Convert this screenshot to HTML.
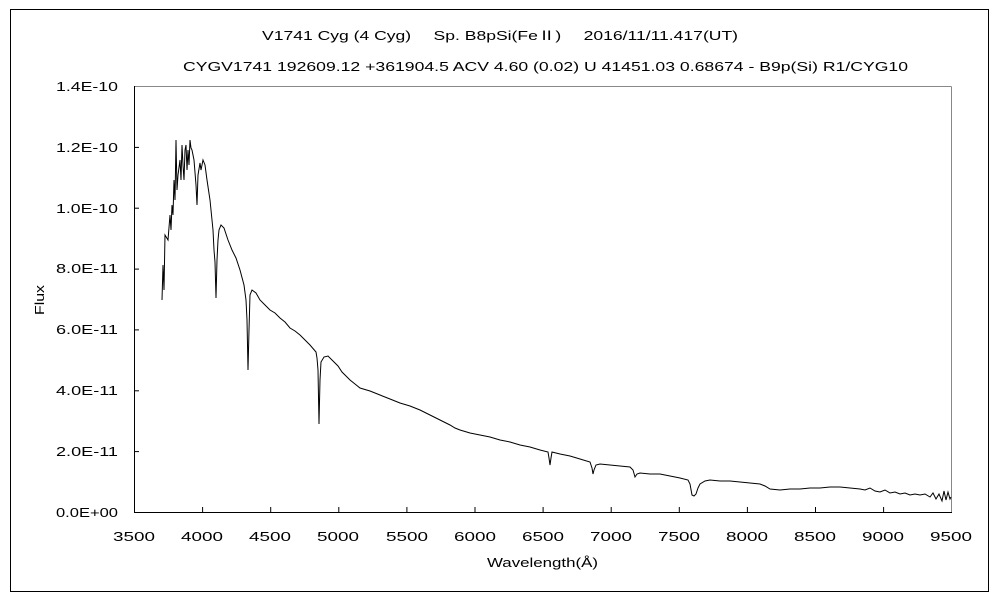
<!DOCTYPE html>
<html><head><meta charset="utf-8"><style>
html,body{margin:0;padding:0;background:#fff;width:1000px;height:600px;overflow:hidden}
text{font-family:"Liberation Sans","Noto Sans CJK JP",sans-serif;font-size:13px;fill:#000}
</style></head><body>
<svg width="1000" height="600" xmlns="http://www.w3.org/2000/svg">
<rect x="10.5" y="9.5" width="978" height="582" fill="none" stroke="#000"/>
<text x="262" y="40" textLength="476" lengthAdjust="spacingAndGlyphs">V1741 Cyg (4 Cyg)　 Sp. B8pSi(FeⅡ)　 2016/11/11.417(UT)</text>
<text x="183" y="71" textLength="725" lengthAdjust="spacingAndGlyphs">CYGV1741 192609.12 +361904.5 ACV 4.60 (0.02) U 41451.03 0.68674 - B9p(Si) R1/CYG10</text>
<line x1="134.5" y1="86.5" x2="951.5" y2="86.5" stroke="#888"/>
<line x1="951.5" y1="86.5" x2="951.5" y2="512.5" stroke="#888"/>
<line x1="134.5" y1="86" x2="134.5" y2="513" stroke="#000"/>
<line x1="134" y1="512.5" x2="952" y2="512.5" stroke="#000"/>
<g stroke="#000">
<line x1="134" y1="451.6" x2="139" y2="451.6"/><line x1="134" y1="390.8" x2="139" y2="390.8"/>
<line x1="134" y1="329.9" x2="139" y2="329.9"/><line x1="134" y1="269.1" x2="139" y2="269.1"/>
<line x1="134" y1="208.2" x2="139" y2="208.2"/><line x1="134" y1="147.4" x2="139" y2="147.4"/>
<line x1="202.6" y1="507" x2="202.6" y2="512"/><line x1="270.7" y1="507" x2="270.7" y2="512"/>
<line x1="338.8" y1="507" x2="338.8" y2="512"/><line x1="406.9" y1="507" x2="406.9" y2="512"/>
<line x1="475" y1="507" x2="475" y2="512"/><line x1="543.1" y1="507" x2="543.1" y2="512"/>
<line x1="611.2" y1="507" x2="611.2" y2="512"/><line x1="679.3" y1="507" x2="679.3" y2="512"/>
<line x1="747.4" y1="507" x2="747.4" y2="512"/><line x1="815.5" y1="507" x2="815.5" y2="512"/>
<line x1="883.6" y1="507" x2="883.6" y2="512"/>
</g>
<g>
<text x="56" y="517" textLength="62" lengthAdjust="spacingAndGlyphs">0.0E+00</text><text x="56" y="456" textLength="62" lengthAdjust="spacingAndGlyphs">2.0E-11</text>
<text x="56" y="395" textLength="62" lengthAdjust="spacingAndGlyphs">4.0E-11</text><text x="56" y="334" textLength="62" lengthAdjust="spacingAndGlyphs">6.0E-11</text>
<text x="56" y="273" textLength="62" lengthAdjust="spacingAndGlyphs">8.0E-11</text><text x="56" y="213" textLength="62" lengthAdjust="spacingAndGlyphs">1.0E-10</text>
<text x="56" y="152" textLength="62" lengthAdjust="spacingAndGlyphs">1.2E-10</text><text x="56" y="91" textLength="62" lengthAdjust="spacingAndGlyphs">1.4E-10</text>
</g>
<g>
<text x="113" y="541" textLength="42" lengthAdjust="spacingAndGlyphs">3500</text><text x="181" y="541" textLength="42" lengthAdjust="spacingAndGlyphs">4000</text><text x="249" y="541" textLength="42" lengthAdjust="spacingAndGlyphs">4500</text>
<text x="317" y="541" textLength="42" lengthAdjust="spacingAndGlyphs">5000</text><text x="386" y="541" textLength="42" lengthAdjust="spacingAndGlyphs">5500</text><text x="454" y="541" textLength="42" lengthAdjust="spacingAndGlyphs">6000</text>
<text x="522" y="541" textLength="42" lengthAdjust="spacingAndGlyphs">6500</text><text x="590" y="541" textLength="42" lengthAdjust="spacingAndGlyphs">7000</text><text x="658" y="541" textLength="42" lengthAdjust="spacingAndGlyphs">7500</text>
<text x="726" y="541" textLength="42" lengthAdjust="spacingAndGlyphs">8000</text><text x="794" y="541" textLength="42" lengthAdjust="spacingAndGlyphs">8500</text><text x="862" y="541" textLength="42" lengthAdjust="spacingAndGlyphs">9000</text>
<text x="930" y="541" textLength="42" lengthAdjust="spacingAndGlyphs">9500</text>
<text x="487" y="567" textLength="111" lengthAdjust="spacingAndGlyphs">Wavelength(Å)</text>
<text transform="translate(44,315) rotate(-90)" textLength="30" lengthAdjust="spacingAndGlyphs">Flux</text>
</g>
<polyline fill="none" stroke="#000" stroke-width="1" points="162,300 163,265 164,290 165,235 168,240 170,215 171,230 172,205 173,215 174,180 175,200 176,140 177,190 178,175 180,160 181,180 182,145 183,165 184,180 185,150 186,145 187,170 188,150 189,165 190,140 191,148 192,150 194,160 196,185 197,205 198,175 200,163 201,170 203,160 205,165 207,180 210,200 212,220 213,230 214,250 215,262 216,298 217,260 218,240 219,230 221,225 224,228 228,240 232,250 236,258 240,270 244,285 246,300 247,320 248,370 249,330 250,295 252,290 256,293 260,300 265,305 270,310 275,313 280,318 285,322 290,328 295,331 300,335 305,340 310,345 316,352 317,358 318,370 319,424 320,380 321,362 324,357 328,356 334,362 338,366 342,372 346,376 350,380 355,384 360,388 370,391 380,395 390,399 400,403 410,406 420,410 430,415 440,420 450,425 455,428 460,430 470,433 480,435 490,437 500,440 510,442 520,445 530,447 540,450 548,452 549,458 550,465 551,458 552,452 560,454 570,456 580,459 590,462 592,468 593,474 594,470 596,465 600,464 610,465 620,466 630,467 633,470 635,477 637,474 640,473 650,474 660,474 670,476 680,478 688,480 690,484 692,495 694,496 696,494 698,488 700,484 705,481 710,480 720,481 730,481 740,482 750,483 760,484 765,486 770,489 780,490 790,489 800,489 810,488 820,488 830,487 840,487 850,488 860,489 865,490 870,488 875,491 880,492 885,490 890,493 895,492 900,494 905,493 910,495 915,494 920,495 925,494 930,497 933,493 936,499 939,494 942,501 944,491 946,500 948,492 950,499 951,497"/>
</svg>
</body></html>
